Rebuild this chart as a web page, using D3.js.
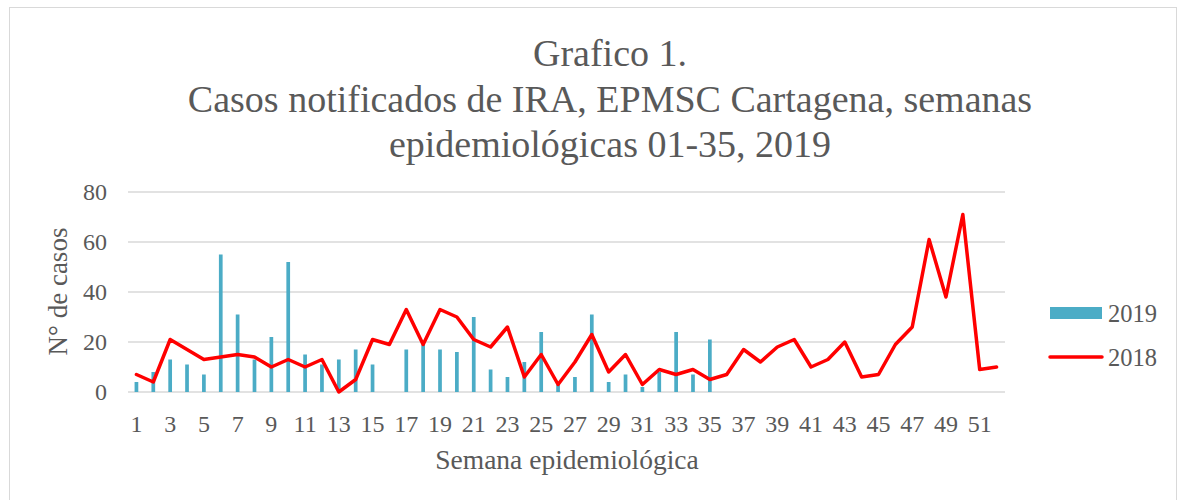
<!DOCTYPE html>
<html>
<head>
<meta charset="utf-8">
<script src="https://cdn.jsdelivr.net/npm/d3@7"></script>
<style>
  body { margin: 0; background: #fff; }
  text { font-family: 'Liberation Serif', 'DejaVu Serif', serif; fill: #595959; }
</style>
</head>
<body>
<div id="chart"></div>
<script>
// weeks 1..52
const weeks = d3.range(1, 53)
// 2019 cases, weeks 1-35
const cases2019 = [4, 8, 13, 11, 7, 55, 31, 13, 22, 52, 15, 11, 13, 17, 11, 0, 17, 19, 17, 16,
  30, 9, 6, 12, 24, 3, 6, 31, 4, 7, 2, 8, 24, 7, 21]
// 2018 cases, weeks 1-52
const cases2018 = [7, 4, 21, 17, 13, 14, 15, 14, 10, 13, 10, 13, 0, 5, 21, 19, 33, 19, 33, 30,
  21, 18, 26, 6, 15, 3, 12, 23, 8, 15, 3, 9, 7, 9, 5, 7, 17, 12, 18, 21,
  10, 13, 20, 6, 7, 19, 26, 61, 38, 71, 9, 10]
const yTicks = [0, 20, 40, 60, 80]
const titleLines = ['Grafico 1.', 'Casos notificados de IRA, EPMSC Cartagena, semanas', 'epidemiológicas 01-35, 2019']

const W = 1179, H = 500
const margin = { top: 192, right: 174, bottom: 108, left: 128 }
const width = W - margin.left - margin.right,
  height = H - margin.top - margin.bottom

const svg = d3.select('#chart').append('svg').attr('width', W).attr('height', H)

// outer frame
svg.append('rect').attr('x', 9.5).attr('y', 7.5).attr('width', W - 12).attr('height', H)
  .attr('fill', 'none').attr('stroke', '#d9d9d9').attr('stroke-width', 1)

// title
svg.append('g').selectAll('text').data(titleLines).join('text')
  .attr('x', 610).attr('y', (d, i) => 66 + i * 45.5)
  .attr('text-anchor', 'middle').attr('font-size', 38)
  .text((d) => d)

const g = svg.append('g').attr('transform', `translate(${margin.left}, ${margin.top})`)

const x = d3.scaleBand().domain(weeks).range([0, width]).paddingInner(0.78).paddingOuter(0.39)
const y = d3.scaleLinear().domain([0, 80]).range([height, 0])

// gridlines
g.append('g').selectAll('line').data(yTicks).join('line')
  .attr('x1', 0).attr('x2', width)
  .attr('y1', (d) => y(d)).attr('y2', (d) => y(d))
  .attr('stroke', '#d9d9d9').attr('stroke-width', 1.5)

// y axis labels
const yAxis = g.append('g').call(d3.axisLeft(y).tickValues(yTicks).tickSize(0).tickPadding(21))
yAxis.select('.domain').remove()
yAxis.selectAll('text').attr('font-size', 24).attr('fill', '#595959').attr('font-family', null)

// x axis labels (odd weeks)
const xAxis = g.append('g').attr('transform', `translate(0, ${height})`)
  .call(d3.axisBottom(x).tickValues(weeks.filter((d) => d % 2 === 1)).tickSize(0).tickPadding(23))
xAxis.select('.domain').remove()
xAxis.selectAll('text').attr('font-size', 24).attr('fill', '#595959').attr('font-family', null)

// bars 2019
g.append('g').selectAll('rect').data(cases2019).join('rect')
  .attr('x', (d, i) => x(weeks[i]))
  .attr('y', (d) => y(d))
  .attr('width', x.bandwidth())
  .attr('height', (d) => height - y(d))
  .attr('fill', '#4bacc6')

// line 2018
const line = d3.line()
  .x((d, i) => x(weeks[i]) + x.bandwidth() / 2)
  .y((d) => y(d))
g.append('path').attr('d', line(cases2018))
  .attr('fill', 'none').attr('stroke', '#ff0000').attr('stroke-width', 3.5)
  .attr('stroke-linejoin', 'round').attr('stroke-linecap', 'round')

// axis titles
svg.append('text').attr('x', 567).attr('y', 469).attr('text-anchor', 'middle')
  .attr('font-size', 27.5).text('Semana epidemiológica')
svg.append('text').attr('transform', 'translate(67, 291.5) rotate(-90)').attr('text-anchor', 'middle')
  .attr('font-size', 27).text('N° de casos')

// legend
const legend = svg.append('g')
legend.append('rect').attr('x', 1050).attr('y', 307).attr('width', 52).attr('height', 12).attr('fill', '#4bacc6')
legend.append('text').attr('x', 1108).attr('y', 322).attr('font-size', 24.5).text('2019')
legend.append('line').attr('x1', 1050).attr('x2', 1102).attr('y1', 357).attr('y2', 357)
  .attr('stroke', '#ff0000').attr('stroke-width', 3.5).attr('stroke-linecap', 'round')
legend.append('text').attr('x', 1108).attr('y', 366).attr('font-size', 24.5).text('2018')
</script>
</body>
</html>
